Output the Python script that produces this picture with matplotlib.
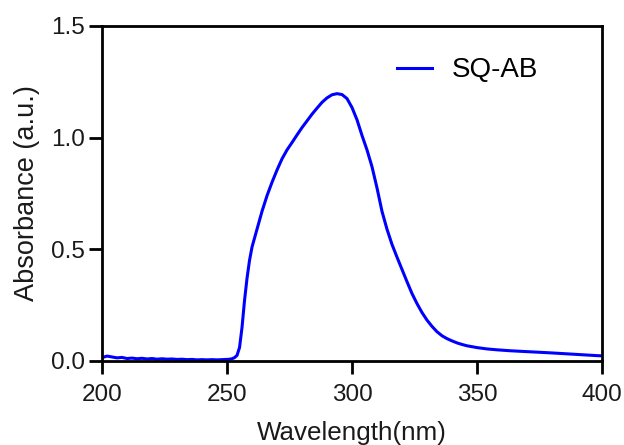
import matplotlib.pyplot as plt
import matplotlib as mpl

mpl.rcParams['font.family'] = ['Liberation Sans', 'DejaVu Sans']

# absorbance spectrum
wavelength = [200, 202, 204, 206, 208, 210, 212, 214, 216, 218, 220, 222, 224, 226,
              228, 230, 232, 234, 236, 238, 240, 242, 244, 246, 248, 250, 251, 252,
              253, 254, 255, 256, 257, 258, 259, 260, 262, 264, 266, 268, 270, 272,
              274, 276, 278, 280, 282, 284, 286, 288, 290, 292, 294, 296, 298, 300,
              302, 304, 306, 308, 310, 312, 314, 316, 318, 320, 322, 324, 326, 328,
              330, 332, 334, 336, 338, 340, 342, 344, 346, 350, 354, 358, 363, 368,
              375, 380, 386, 392, 398, 400]
absorbance = [0.015, 0.022, 0.018, 0.014, 0.016, 0.011, 0.013, 0.010, 0.012, 0.009,
              0.011, 0.008, 0.010, 0.008, 0.009, 0.007, 0.008, 0.006, 0.007, 0.005,
              0.006, 0.005, 0.006, 0.005, 0.006, 0.007, 0.008, 0.010, 0.015, 0.025,
              0.060, 0.150, 0.270, 0.370, 0.450, 0.510, 0.590, 0.670, 0.740, 0.800,
              0.855, 0.905, 0.945, 0.978, 1.012, 1.045, 1.075, 1.105, 1.132, 1.158,
              1.178, 1.192, 1.197, 1.193, 1.175, 1.135, 1.080, 1.010, 0.945, 0.870,
              0.775, 0.670, 0.590, 0.522, 0.465, 0.410, 0.355, 0.302, 0.257, 0.217,
              0.183, 0.155, 0.131, 0.113, 0.100, 0.090, 0.081, 0.074, 0.068, 0.060,
              0.054, 0.050, 0.046, 0.043, 0.039, 0.036, 0.032, 0.028, 0.024, 0.023]

fig = plt.figure(figsize=(6.24, 4.45), dpi=100)
ax = fig.add_axes([0.1635, 0.1888, 0.8012, 0.7528])

ax.plot(wavelength, absorbance, color='#0000ff', lw=2.2, label='SQ-AB')

ax.set_xlim(200, 400)
ax.set_ylim(0, 1.5)
ax.set_xticks([200, 250, 300, 350, 400])
ax.set_yticks([0.0, 0.5, 1.0, 1.5])
ax.set_yticklabels(['0.0', '0.5', '1.0', '1.5'])

for s in ax.spines.values():
    s.set_linewidth(2.0)
ax.tick_params(direction='out', length=9.5, width=2.0, labelsize=17.5,
               colors='black', labelcolor='#1a1a1a')
ax.tick_params(axis='x', pad=7)
ax.tick_params(axis='y', pad=3)

ax.set_xlabel('Wavelength(nm)', fontsize=18.7, color='#1a1a1a', labelpad=11)
ax.set_ylabel('Absorbance (a.u.)', fontsize=19.5, color='#1a1a1a', labelpad=8)

ax.legend(loc='center left', bbox_to_anchor=(0.59, 0.869), frameon=False,
          fontsize=20, borderaxespad=0, borderpad=0, handlelength=1.25,
          handletextpad=0.72, handleheight=0.5)

fig.savefig('out.png', dpi=100)
